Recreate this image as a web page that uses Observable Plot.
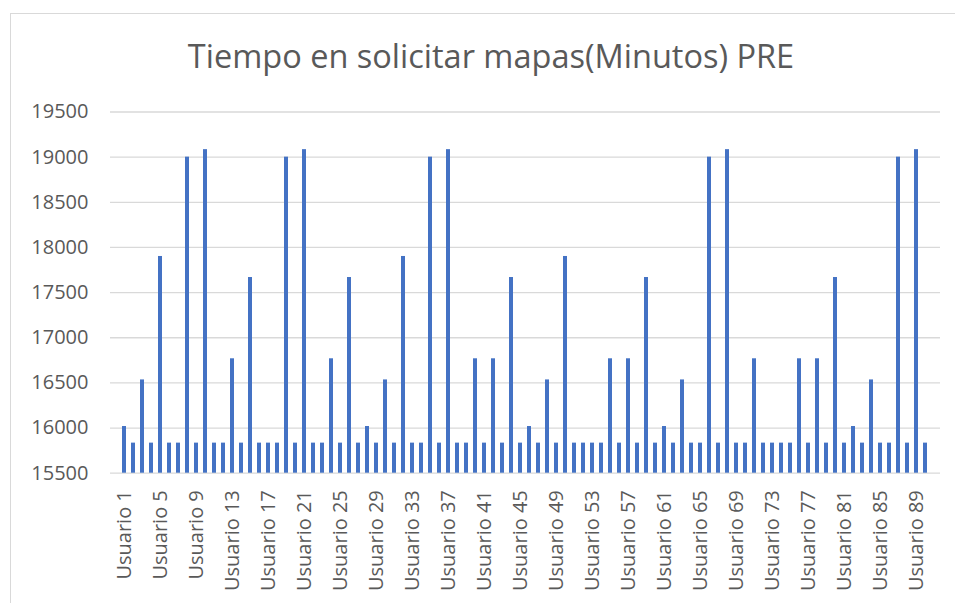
<!DOCTYPE html>
<html>
<head>
<meta charset="utf-8">
<script src="https://cdn.jsdelivr.net/npm/d3@7"></script>
<script src="https://cdn.jsdelivr.net/npm/@observablehq/plot@0.6"></script>
<style>
  html, body { margin: 0; padding: 0; background: #fff; overflow: hidden; }
  #wrap { position: relative; width: 955px; height: 603px; }
  #frame { position: absolute; left: 10px; top: 13px; width: 980px; height: 620px; border: 1.3px solid #d9d9d9; box-sizing: border-box; }
  #title { position: absolute; left: 10px; top: 0; width: 962px; height: 90px; text-align: center;
           font-family: "Open Sans", sans-serif; font-size: 32.5px; color: #595959; line-height: 1; padding-top: 40px; box-sizing: border-box; }
  #chart { position: absolute; left: 0; top: 90px; }
</style>
</head>
<body>
<div id="wrap">
  <div id="frame"></div>
  <div id="title">Tiempo en solicitar mapas(Minutos) PRE</div>
  <div id="chart"></div>
</div>
<script>
const users = d3.range(1, 91).map(i => "Usuario " + i);
const minutes = [
  16017, 15833, 16533, 15833, 17900, 15833, 15833, 19000, 15833, 19083,
  15833, 15833, 16767, 15833, 17667, 15833, 15833, 15833, 19000, 15833,
  19083, 15833, 15833, 16767, 15833, 17667, 15833, 16017, 15833, 16533,
  15833, 17900, 15833, 15833, 19000, 15833, 19083, 15833, 15833, 16767,
  15833, 16767, 15833, 17667, 15833, 16017, 15833, 16533, 15833, 17900,
  15833, 15833, 15833, 15833, 16767, 15833, 16767, 15833, 17667, 15833,
  16017, 15833, 16533, 15833, 15833, 19000, 15833, 19083, 15833, 15833,
  16767, 15833, 15833, 15833, 15833, 16767, 15833, 16767, 15833, 17667,
  15833, 16017, 15833, 16533, 15833, 15833, 19000, 15833, 19083, 15833
];
const yTicks = [15500, 16000, 16500, 17000, 17500, 18000, 18500, 19000, 19500];
const xTickLabels = users.filter((d, i) => i % 4 === 0);

const data = users.map((u, i) => ({user: u, value: minutes[i]}));
const yMin = yTicks[0], yMax = yTicks[yTicks.length - 1];

const chart = Plot.plot({
  width: 955,
  height: 513,
  marginTop: 21.5,
  marginBottom: 130.3,
  marginLeft: 110,
  marginRight: 15,
  style: {fontFamily: "'Open Sans', sans-serif", fontSize: "20px", color: "#595959", background: "transparent"},
  x: {domain: users, paddingInner: 0.55, paddingOuter: 0.275, label: null},
  y: {domain: [yMin, yMax], label: null},
  marks: [
    Plot.gridY(yTicks, {stroke: "#d9d9d9", strokeOpacity: 1, strokeWidth: 1.3}),
    Plot.barY(data, {x: "user", y1: yMin, y2: "value", fill: "#4472c4"}),
    Plot.axisY({ticks: yTicks, tickSize: 0, tickPadding: 22, label: null, tickFormat: d => String(d), fill: "#595959"}),
    Plot.axisX({ticks: xTickLabels, tickSize: 0, tickPadding: 17, tickRotate: -90, label: null, fill: "#595959"})
  ]
});
document.getElementById("chart").appendChild(chart);
</script>
</body>
</html>
